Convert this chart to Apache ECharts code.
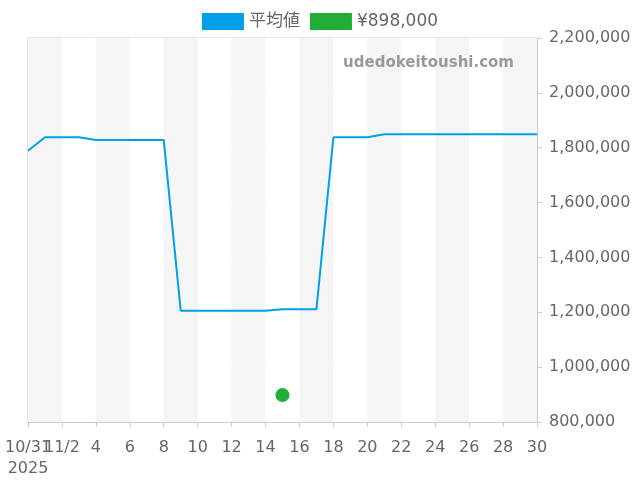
<!DOCTYPE html>
<html>
<head>
<meta charset="utf-8">
<script src="https://cdn.jsdelivr.net/npm/echarts@6/dist/echarts.min.js"></script>
<style>html,body{margin:0;padding:0;background:#fff}#c{width:640px;height:480px}</style>
</head>
<body>
<div id="c"></div>
<script>
var categories = ['10/31','11/1','11/2','3','4','5','6','7','8','9','10','11','12','13','14','15','16','17','18','19','20','21','22','23','24','25','26','27','28','29','30'];
var avgValues = [1789000,1838000,1838000,1838000,1828000,1828000,1828000,1828000,1828000,1206000,1206000,1206000,1206000,1206000,1206000,1211000,1211000,1211000,1838000,1838000,1838000,1849000,1849000,1849000,1849000,1849000,1849000,1849000,1849000,1849000,1849000];
var listingIndex = 15;
var listingValue = 898000;
var yTicks = {min: 800000, max: 2200000, interval: 200000};

var scatterData = categories.map(function (c, i) { return i === listingIndex ? listingValue : '-'; });

var chart = echarts.init(document.getElementById('c'));
chart.setOption({
  animation: false,
  textStyle: {fontFamily: 'DejaVu Sans'},
  legend: {
    top: 8, left: 'center', itemWidth: 42, itemHeight: 17, itemGap: 10,
    textStyle: {fontSize: 17, color: '#666', fontFamily: '"DejaVu Sans","Noto Sans CJK JP"'},
    data: [{name: '平均値', icon: 'rect'}, {name: '¥898,000', icon: 'rect'}]
  },
  grid: {left: 28, right: 103, top: 38, bottom: 58, show: true, borderColor: '#ccc', borderWidth: 1},
  graphic: [{
    type: 'text', right: 126, top: 56, z: 100,
    style: {text: 'udedokeitoushi.com', font: 'bold 15px "DejaVu Sans"', fill: '#999'}
  }],
  xAxis: {
    type: 'category', data: categories, boundaryGap: false,
    axisLine: {lineStyle: {color: '#ccc'}},
    axisTick: {interval: 1, lineStyle: {color: '#ccc'}},
    axisLabel: {
      interval: 0, fontSize: 16, color: '#666', margin: 15, lineHeight: 21,
      hideOverlap: false,
      formatter: function (v, i) {
        if (i % 2 === 1) return '';
        return i === 0 ? v + '\n2025' : v;
      }
    },
    splitLine: {show: false},
    splitArea: {show: true, interval: 1, areaStyle: {color: ['#f5f5f5', '#ffffff']}}
  },
  yAxis: {
    type: 'value', position: 'right', min: yTicks.min, max: yTicks.max, interval: yTicks.interval,
    axisLine: {show: true, lineStyle: {color: '#ccc'}},
    axisTick: {show: true, lineStyle: {color: '#ccc'}},
    axisLabel: {fontSize: 16, color: '#666', margin: 12},
    splitLine: {lineStyle: {color: '#e0e0e0'}}
  },
  series: [
    {name: '平均値', type: 'line', data: avgValues, showSymbol: false, symbol: 'none',
     lineStyle: {width: 2, color: '#00a0e9'}, itemStyle: {color: '#00a0e9'}},
    {name: '¥898,000', type: 'scatter', data: scatterData, symbolSize: 14,
     itemStyle: {color: '#22ac38', opacity: 1}}
  ]
});
</script>
</body>
</html>
